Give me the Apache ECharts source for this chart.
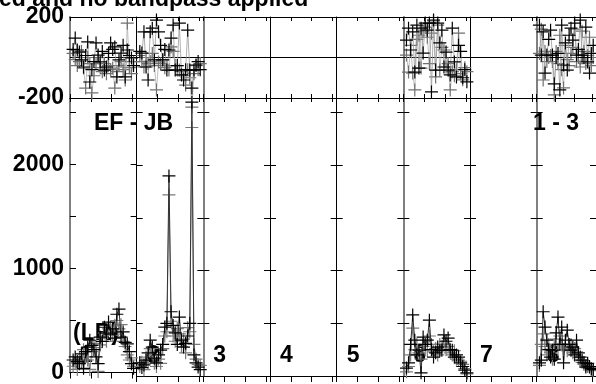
<!DOCTYPE html>
<html><head><meta charset="utf-8">
<script src="https://cdn.jsdelivr.net/npm/echarts@6/dist/echarts.min.js"></script>
<style>html,body{margin:0;padding:0;background:#fff;overflow:hidden}#c{width:596px;height:384px}</style>
</head><body><div id="c"></div>
<script>
// ---- data ----
const titleText = 'ed and no bandpass applied';
const baselineLabel = 'EF - JB';
const timeLabel = '1 - 3';
const polLabel = '(LR)';
const panelNumbers = ['1', '2', '3', '4', '5', '6', '7', '8'];
const channels = [3, 5, 7, 9, 11, 13, 15, 17, 19, 21, 23, 25, 27, 29, 31, 33, 35, 37, 39, 41, 43, 45, 47, 49, 51, 53, 55, 57, 59, 61];
const phaseRange = [-200, 200];
const ampRange = [0, 2640];

// phase (degrees), two overlaid scans per panel
const phase1a = [40, 96, 37, 27, -12, -47, 10, 77, -121, -60, -20, 72, 12, -22, 30, -62, -47, 20, 72, 40, 52, -96, -12, 22, 60, -96, 37, 10, -2, -40];
const phase1b = [20, -10, -40, -20, 30, -52, -151, 0, -30, -175, -90, -30, 0, -50, -70, -30, -80, -40, -60, -52, -151, -70, -40, -20, -60, -111, 170, -50, -80, -20];
const phase2a = [30, 22, 127, -47, -111, 127, 145, -12, 185, 127, 60, -12, 40, -62, 37, 96, 160, -62, -40, 170, -86, -111, -60, 135, -62, -151, -62, -37, -20, -60];
const phase2b = [10, -20, -47, 0, -30, -20, 20, -40, -160, -22, -30, -10, -50, -40, -62, 52, 30, -40, -62, -62, -70, -90, -136, -60, -100, -245, -80, -40, -60, -30];
const phase6a = [86, 145, 37, 127, -72, 160, -52, 145, 22, 170, 135, 170, -170, 185, -62, 170, 72, 135, -47, 27, -62, -86, 145, -22, -96, 60, 30, -100, -60, -120];
const phase6b = [12, -72, 60, -77, -160, 90, 110, -52, 130, 150, 100, -30, 120, 175, -96, 160, -62, 50, 37, -47, -30, -160, -70, -90, -60, 120, -80, -110, -50, -70];
const phase8a = [160, 12, 127, -77, 12, 90, 135, 12, -130, 0, 20, -160, 160, -37, 72, -62, 110, 145, 86, 170, 12, 40, 185, 12, 0, 150, -22, -77, 20, 60];
const phase8b = [20, 140, -111, 30, -20, 0, 10, -20, -185, 30, -30, 110, -60, -150, 60, -10, -40, 20, 50, 140, -20, 0, -47, 130, 30, -30, 10, 100, -40, 0];

// amplitude
const amp1a = [120, 150, 105, 85, 180, 40, 200, 245, 310, 260, 220, 150, 85, 340, 300, 435, 380, 485, 370, 420, 330, 560, 610, 340, 390, 290, 275, 200, 85, 40];
const amp1b = [60, 90, 30, 140, 100, 220, 150, 120, 30, 200, 280, 240, 10, 265, 330, 380, 300, 420, 440, 360, 455, 500, 420, 460, 300, 250, 170, 120, 140, 60];
const amp2a = [125, 80, 105, 150, 220, 340, 275, 170, 125, 200, 245, 300, 465, 500, 1900, 610, 480, 410, 300, 560, 340, 275, 310, 380, 500, 2600, 200, 125, 85, 60];
const amp2b = [90, 130, 60, 180, 120, 260, 200, 120, 90, 160, 120, 260, 380, 420, 1720, 520, 380, 330, 450, 400, 280, 350, 220, 460, 420, 2360, 300, 160, 110, 100];
const amp6a = [75, 125, 300, 580, 340, 200, 245, 30, 370, 300, 340, 530, 250, 180, 220, 275, 240, 245, 390, 330, 360, 250, 245, 180, 200, 180, 125, 90, 55, 30];
const amp6b = [40, 90, 200, 455, 250, 300, 220, 160, 280, 250, 245, 380, 300, 230, 260, 200, 300, 280, 300, 250, 280, 220, 200, 240, 160, 150, 140, 110, 70, 20];
const amp8a = [125, 150, 610, 465, 340, 250, 180, 245, 160, 410, 560, 300, 465, 125, 340, 435, 300, 245, 275, 200, 340, 220, 180, 150, 125, 85, 120, 90, 70, 60];
const amp8b = [100, 300, 400, 280, 200, 300, 220, 160, 300, 350, 250, 380, 300, 250, 300, 240, 280, 300, 220, 260, 230, 180, 150, 130, 110, 100, 90, 80, 60, 50];

const panelData = {
  0: { ph: [phase1b, phase1a], amp: [amp1b, amp1a] },
  1: { ph: [phase2b, phase2a], amp: [amp2b, amp2a] },
  5: { ph: [phase6b, phase6a], amp: [amp6b, amp6a] },
  7: { ph: [phase8b, phase8a], amp: [amp8b, amp8a] }
};

// ---- layout ----
const FONT = 'Liberation Sans, Arial, Helvetica, sans-serif';
const L = 70, W = 200 / 3;
const greyBorders = [0, 2, 5, 7];
const rows = [
  { top: 17, height: 81, min: phaseRange[0], max: phaseRange[1], interval: 200, key: 'ph' },
  { top: 98, height: 278, min: ampRange[0], max: ampRange[1], interval: 500, key: 'amp' }
];
const grid = [], xAxis = [], yAxis = [], series = [];
const cross = 'path://M0 6H12M6 0V12';
const seriesColors = {
  ph: [{ sym: '#707070', line: '#b0b0b0' }, { sym: '#000', line: '#9a9a9a' }],
  amp: [{ sym: '#7a7a7a', line: '#8a8a8a' }, { sym: '#000', line: '#333' }]
};

rows.forEach((row, r) => {
  for (let c = 0; c < 8; c++) {
    const gi = grid.length;
    grid.push({ left: L + c * W, top: row.top, width: W, height: row.height, show: false });
    const xBase = { gridIndex: gi, type: 'value', min: 0, max: 64, interval: 20,
      axisLabel: { show: false }, splitLine: { show: false } };
    xAxis.push(Object.assign({}, xBase, { position: 'bottom',
      axisLine: { show: true, onZero: false, lineStyle: { color: '#000', width: 1 } },
      axisTick: { show: true, inside: r === 0, length: r === 0 ? 4 : 6, lineStyle: { color: '#000' } } }));
    xAxis.push(Object.assign({}, xBase, { position: 'top',
      axisLine: { show: true, onZero: false, lineStyle: { color: '#000', width: 1 } },
      axisTick: { show: true, inside: true, length: 4, lineStyle: { color: '#000' } } }));
    const grey = greyBorders.includes(c);
    yAxis.push({ gridIndex: gi, type: 'value', position: 'left', min: row.min, max: row.max, interval: row.interval,
      axisLine: { show: true, onZero: false, lineStyle: { color: grey ? '#808080' : '#000', width: grey ? 2 : 1 } },
      axisTick: { show: true, inside: true, length: 6, lineStyle: { color: '#000' } },
      axisLabel: { show: c === 0, margin: 6, color: '#000', fontSize: 23, fontWeight: 'bold', fontFamily: FONT,
        formatter: r === 0 ? (v => v === 0 ? '' : String(v)) : (v => v % 1000 === 0 ? String(v) : '') },
      splitLine: { show: r === 0, lineStyle: { color: '#000', width: 1 } } });
    yAxis.push({ gridIndex: gi, type: 'value', position: 'right', min: row.min, max: row.max, interval: row.interval,
      axisLine: { show: false, onZero: false },
      axisTick: { show: true, inside: true, length: 6, lineStyle: { color: '#000' } },
      axisLabel: { show: false }, splitLine: { show: false } });
    const pd = panelData[c];
    if (pd) {
      pd[row.key].forEach((vals, k) => {
        const col = seriesColors[row.key][k];
        series.push({ type: 'line', xAxisIndex: 2 * gi, yAxisIndex: 2 * gi, clip: false,
          data: vals.map((v, i) => [channels[i], v]),
          symbol: cross, symbolSize: 13, showAllSymbol: true,
          itemStyle: { color: 'none', borderColor: col.sym, borderWidth: 1.2 },
          lineStyle: { color: col.line, width: r === 0 ? 0.8 : 1 },
          emphasis: { disabled: true }, z: 2 + k });
      });
    }
  }
});

const txt = (text, x, y) => ({ type: 'text', x, y, z: 1,
  style: { text, fill: '#000', font: 'bold 23px ' + FONT, textVerticalAlign: 'middle' } });
const graphic = [
  txt(titleText, -1, 0),
  txt(baselineLabel, 94, 123.5),
  txt(timeLabel, 533, 123.5),
  txt(polLabel, 73, 334)
];
panelNumbers.forEach((n, c) => graphic.push(txt(n, L + c * W + 10, 356)));

const chart = echarts.init(document.getElementById('c'), null, { renderer: 'canvas' });
chart.setOption({ animation: false, backgroundColor: '#fff', grid, xAxis, yAxis, series, graphic });
</script></body></html>
